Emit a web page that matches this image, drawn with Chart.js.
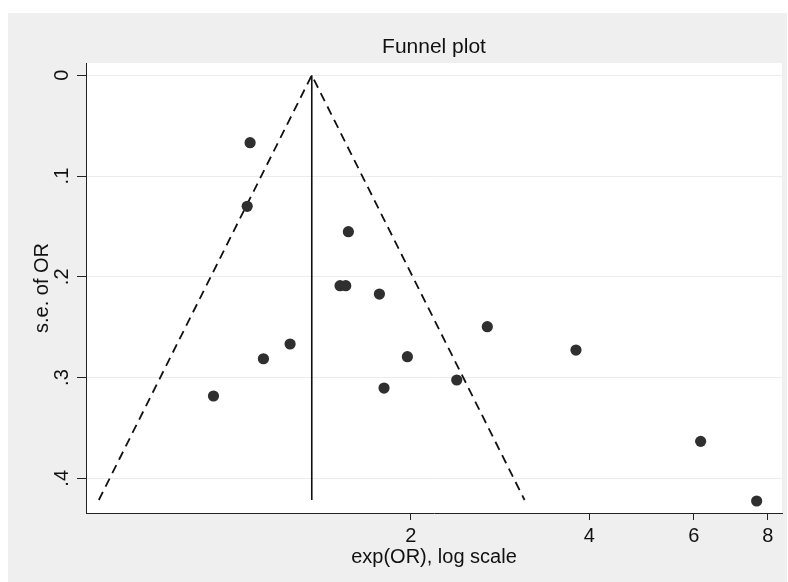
<!DOCTYPE html>
<html>
<head>
<meta charset="utf-8">
<title>Funnel plot</title>
<script src="https://cdn.jsdelivr.net/npm/chart.js@4.4.1/dist/chart.umd.min.js"></script>
<style>
  html, body { margin: 0; padding: 0; background: #ffffff; }
  canvas { display: block; }
</style>
</head>
<body>
<canvas id="funnelChart" width="788" height="582"></canvas>
<script>
// study estimates
const studyOR = [1.072, 1.060, 1.570, 1.520, 1.554, 1.771, 1.252, 1.129, 0.930, 1.803,
                 1.974, 2.692, 2.391, 3.798, 6.162, 7.658];
const studySE = [0.0669, 0.130, 0.1552, 0.2088, 0.2088, 0.2171, 0.2667, 0.2813, 0.3183, 0.3104,
                 0.2793, 0.2495, 0.3024, 0.2727, 0.3633, 0.4225];

// pooled estimate and pseudo 95% limits
const pooledOR = 1.362;
const funnelOR = [0.596, 1.362, 3.111];
const funnelSE = [0.4215, 0, 0.4215];
const pooledSE = [0, 0.4215];

const xTicks = [2, 4, 6, 8];
const yTicks = [0, 0.1, 0.2, 0.3, 0.4];
const yTickLabels = ['0', '.1', '.2', '.3', '.4'];

const FONT = '"Liberation Sans", Arial, Helvetica, sans-serif';

const bgPlugin = {
    id: 'stataBackground',
    beforeDraw(chart) {
        const ctx = chart.ctx;
        const area = chart.chartArea;
        ctx.save();
        ctx.fillStyle = '#ffffff';
        ctx.fillRect(0, 0, chart.width, chart.height);
        ctx.fillStyle = '#efefef';
        ctx.fillRect(8, 13, 779, chart.height - 13);
        ctx.fillStyle = '#ffffff';
        ctx.fillRect(area.left, area.top, area.right - area.left, area.bottom - area.top);
        ctx.restore();
    }
};

const ctx = document.getElementById('funnelChart').getContext('2d');
const funnelChart = new Chart(ctx, {
    type: 'scatter',
    data: {
        datasets: [
            {
                label: 'Studies',
                data: studyOR.map((v, i) => ({ x: v, y: studySE[i] })),
                backgroundColor: '#2f2f2f',
                borderWidth: 0,
                pointRadius: 5.6,
                order: 0
            },
            {
                label: 'Pseudo 95% limits',
                data: funnelOR.map((v, i) => ({ x: v, y: funnelSE[i] })),
                showLine: true,
                borderColor: '#111111',
                borderWidth: 1.8,
                borderDash: [9, 6],
                pointRadius: 0,
                order: 1
            },
            {
                label: 'Pooled',
                data: pooledSE.map(s => ({ x: pooledOR, y: s })),
                showLine: true,
                borderColor: '#111111',
                borderWidth: 1.6,
                pointRadius: 0,
                order: 1
            }
        ]
    },
    options: {
        responsive: false,
        animation: false,
        layout: {
            padding: { left: 8, right: 6, top: 13, bottom: 0 }
        },
        plugins: {
            legend: { display: false },
            tooltip: { enabled: false },
            title: {
                display: true,
                text: 'Funnel plot',
                fullSize: false,
                color: '#111111',
                font: { family: FONT, size: 21, weight: 'normal' },
                padding: { top: 21.4, bottom: 3.4 }
            }
        },
        scales: {
            x: {
                type: 'logarithmic',
                min: 0.567,
                max: 8.45,
                afterBuildTicks: scale => {
                    scale.ticks = xTicks.map(v => ({ value: v }));
                },
                afterFit: scale => { scale.height = 69; },
                ticks: {
                    color: '#111111',
                    font: { family: FONT, size: 20 },
                    padding: 4,
                    maxRotation: 0,
                    autoSkip: false,
                    callback: value => String(value)
                },
                grid: {
                    drawOnChartArea: false,
                    drawTicks: true,
                    tickLength: 7,
                    tickColor: '#222222'
                },
                border: { display: true, color: '#222222', width: 1 },
                title: {
                    display: true,
                    text: 'exp(OR), log scale',
                    color: '#111111',
                    font: { family: FONT, size: 20 },
                    padding: { top: 0, bottom: 13 }
                }
            },
            y: {
                type: 'linear',
                reverse: true,
                min: -0.0122,
                max: 0.4344,
                afterBuildTicks: scale => {
                    scale.ticks = yTicks.map(v => ({ value: v }));
                },
                afterFit: scale => { scale.width = 78; },
                ticks: {
                    color: '#111111',
                    font: { family: FONT, size: 20 },
                    padding: 6,
                    minRotation: 90,
                    maxRotation: 90,
                    crossAlign: 'center',
                    autoSkip: false,
                    callback: (value, index) => yTickLabels[index]
                },
                grid: {
                    color: '#ececec',
                    lineWidth: 1,
                    drawTicks: true,
                    tickLength: 9,
                    tickColor: '#222222'
                },
                border: { display: true, color: '#222222', width: 1 },
                title: {
                    display: true,
                    text: 's.e. of OR',
                    color: '#111111',
                    font: { family: FONT, size: 20 },
                    padding: { top: 22, bottom: 0 }
                }
            }
        }
    },
    plugins: [bgPlugin]
});
</script>
</body>
</html>
